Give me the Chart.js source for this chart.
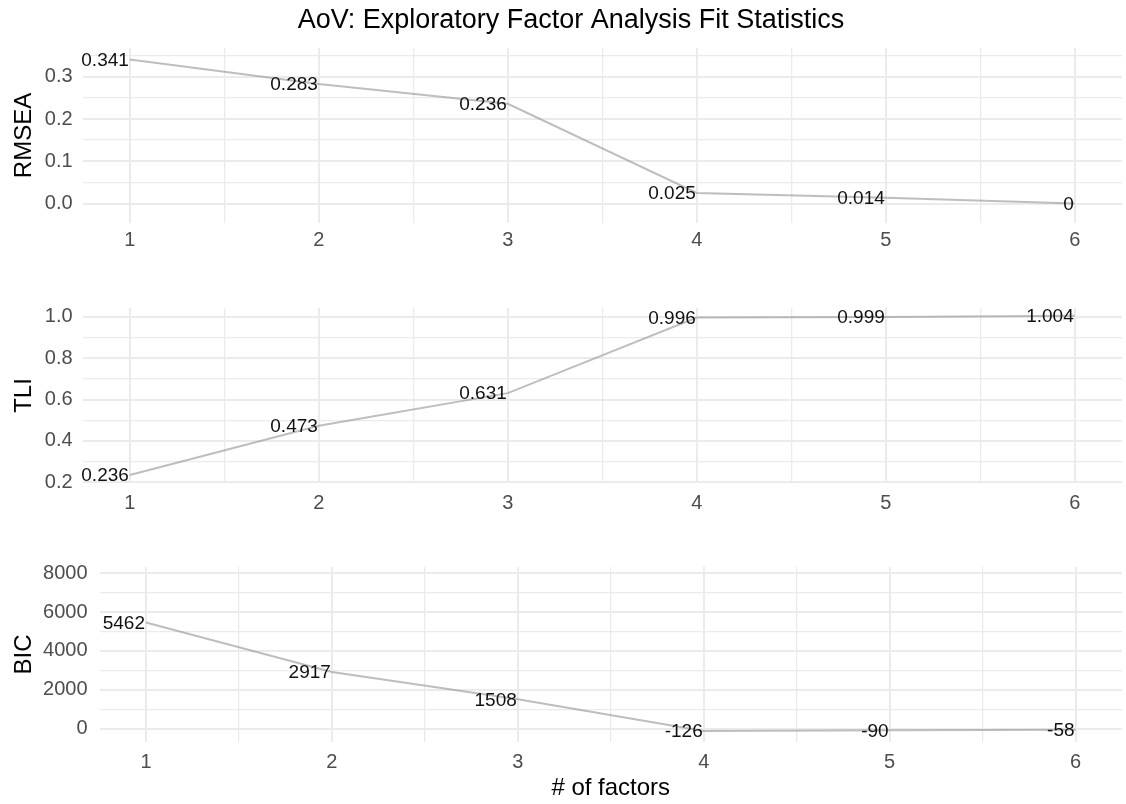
<!DOCTYPE html>
<html>
<head>
<meta charset="utf-8">
<script src="https://cdn.jsdelivr.net/npm/chart.js@4.4.1/dist/chart.umd.min.js"></script>
<style>
  html, body { margin: 0; padding: 0; background: #ffffff; overflow: hidden; }
  .panel { position: absolute; left: 0; width: 1126px; }
  #p1 { top: 0px; height: 260px; }
  #p2 { top: 260px; height: 260px; }
  #p3 { top: 520px; height: 284px; }
</style>
</head>
<body>
<div class="panel" id="p1"><canvas id="c1"></canvas></div>
<div class="panel" id="p2"><canvas id="c2"></canvas></div>
<div class="panel" id="p3"><canvas id="c3"></canvas></div>
<script>
// ---- data ----
const factors = [1, 2, 3, 4, 5, 6];
const rmsea = [0.341, 0.283, 0.236, 0.025, 0.014, 0];
const tli = [0.236, 0.473, 0.631, 0.996, 0.999, 1.004];
const bic = [5462, 2917, 1508, -126, -90, -58];

// ---- tick labels / grid breaks ----
const xTicks = [1, 1.5, 2, 2.5, 3, 3.5, 4, 4.5, 5, 5.5, 6];
const xLabels = ['1', '2', '3', '4', '5', '6'];
const rmseaTicks = [0, 0.05, 0.1, 0.15, 0.2, 0.25, 0.3, 0.35];
const rmseaLabels = ['0.0', '0.1', '0.2', '0.3'];
const tliTicks = [0.2, 0.3, 0.4, 0.5, 0.6, 0.7, 0.8, 0.9, 1.0];
const tliLabels = ['0.2', '0.4', '0.6', '0.8', '1.0'];
const bicTicks = [0, 1000, 2000, 3000, 4000, 5000, 6000, 7000, 8000];
const bicLabels = ['0', '2000', '4000', '6000', '8000'];

const FONT = "'Liberation Sans', Arial, Helvetica, sans-serif";
const GRID = '#ebebeb';
const TICKCOL = '#4d4d4d';

const valueLabels = {
  id: 'valueLabels',
  afterDatasetsDraw(chart) {
    const ctx = chart.ctx;
    const meta = chart.getDatasetMeta(0);
    const ds = chart.data.datasets[0];
    ctx.save();
    ctx.font = '19px ' + FONT;
    ctx.fillStyle = '#111111';
    ctx.textAlign = 'right';
    ctx.textBaseline = 'middle';
    meta.data.forEach((pt, i) => {
      ctx.fillText(String(ds.data[i].y), pt.x - 1, pt.y + 1);
    });
    ctx.restore();
  }
};

function labelFor(v, labels) {
  const hit = labels.find(l => Math.abs(Number(l) - v) < 1e-9);
  return hit === undefined ? null : hit;
}

function makePanel(id, values, yTitle, yTicks, yLabels, yMin, yMax, geo) {
  const ctx = document.getElementById(id);
  return new Chart(ctx, {
    type: 'line',
    data: {
      datasets: [{
        data: factors.map((f, i) => ({ x: f, y: values[i] })),
        borderColor: 'rgba(150,150,150,0.62)',
        borderWidth: 2,
        pointRadius: 0,
        pointHoverRadius: 0,
        tension: 0,
        fill: false
      }]
    },
    plugins: [valueLabels],
    options: {
      responsive: true,
      maintainAspectRatio: false,
      animation: false,
      events: [],
      layout: { padding: { left: geo.padLeft, right: 4, top: geo.padTop, bottom: 0 } },
      plugins: {
        legend: { display: false },
        tooltip: { enabled: false },
        title: geo.title ? {
          display: true,
          text: geo.title,
          color: '#000000',
          font: { family: FONT, size: 27, weight: 'normal' },
          padding: { top: 4, bottom: 11.6 }
        } : { display: false }
      },
      scales: {
        x: {
          type: 'linear',
          min: 0.75,
          max: 6.25,
          afterBuildTicks: s => { s.ticks = xTicks.map(v => ({ value: v })); },
          afterFit: s => { s.height = geo.xHeight; },
          border: { display: false },
          grid: {
            drawTicks: false,
            color: GRID,
            lineWidth: c => (c.tick && labelFor(c.tick.value, xLabels) !== null) ? 2 : 1.3
          },
          ticks: {
            autoSkip: false,
            maxRotation: 0,
            padding: geo.xPad,
            color: TICKCOL,
            font: { family: FONT, size: 20 },
            callback: v => labelFor(v, xLabels) || ''
          },
          title: geo.xTitle ? {
            display: true,
            text: geo.xTitle,
            color: '#000000',
            font: { family: FONT, size: 24 },
            padding: { top: 0, bottom: 1.6 }
          } : { display: false }
        },
        y: {
          type: 'linear',
          min: yMin,
          max: yMax,
          afterBuildTicks: s => { s.ticks = yTicks.map(v => ({ value: v })); },
          afterFit: s => { s.width = geo.yWidth; },
          border: { display: false },
          grid: {
            drawTicks: false,
            color: GRID,
            lineWidth: c => (c.tick && labelFor(c.tick.value, yLabels) !== null) ? 2 : 1.3
          },
          ticks: {
            autoSkip: false,
            padding: geo.yPad,
            color: TICKCOL,
            font: { family: FONT, size: 20 },
            callback: v => labelFor(v, yLabels) || ''
          },
          title: {
            display: true,
            text: yTitle,
            color: '#000000',
            font: { family: FONT, size: 24 },
            padding: { top: 9.6 - geo.padLeft, bottom: 0 }
          }
        }
      }
    }
  });
}

makePanel('c1', rmsea, 'RMSEA', rmseaTicks, rmseaLabels, -0.046, 0.368,
  { padLeft: 20, padTop: 0, title: 'AoV: Exploratory Factor Analysis Fit Statistics', xHeight: 37, xPad: 5, yWidth: 62.6, yPad: 10 });
makePanel('c2', tli, 'TLI', tliTicks, tliLabels, 0.197, 1.042,
  { padLeft: 0, padTop: 48, xHeight: 37, xPad: 8, yWidth: 82.6, yPad: 10 });
makePanel('c3', bic, 'BIC', bicTicks, bicLabels, -690, 8320,
  { padLeft: 0, padTop: 47, xHeight: 62, xPad: 8, xTitle: '# of factors', yWidth: 99.5, yPad: 12 });
</script>
</body>
</html>
